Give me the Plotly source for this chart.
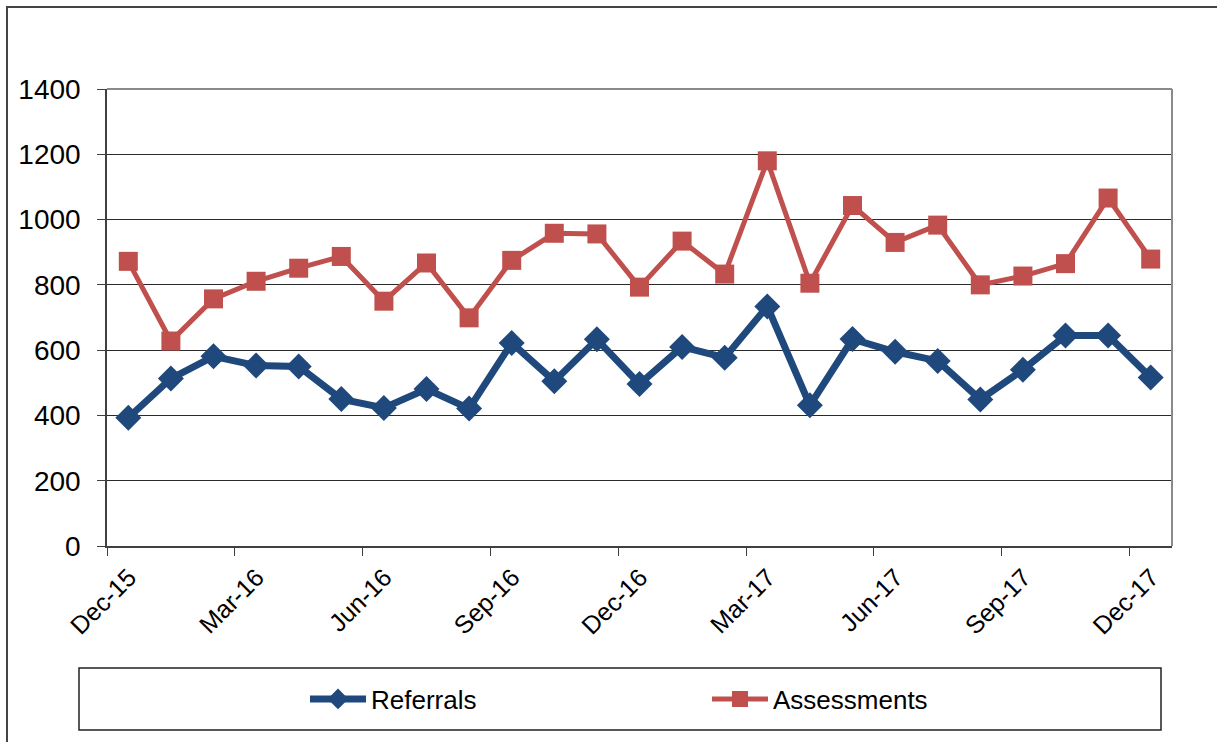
import plotly.graph_objects as go

months = ["Dec-15", "Jan-16", "Feb-16", "Mar-16", "Apr-16", "May-16", "Jun-16", "Jul-16",
          "Aug-16", "Sep-16", "Oct-16", "Nov-16", "Dec-16", "Jan-17", "Feb-17", "Mar-17",
          "Apr-17", "May-17", "Jun-17", "Jul-17", "Aug-17", "Sep-17", "Oct-17", "Nov-17", "Dec-17"]
referrals = [393, 513, 581, 553, 550, 450, 423, 481, 421, 622, 505, 633, 496, 610, 577, 734,
             431, 634, 595, 567, 449, 540, 645, 645, 516]
assessments = [872, 628, 757, 811, 851, 887, 750, 867, 699, 875, 958, 956, 793, 934, 833, 1180,
               805, 1043, 930, 983, 800, 827, 865, 1066, 879]
tick_labels = ["Dec-15", "Mar-16", "Jun-16", "Sep-16", "Dec-16", "Mar-17", "Jun-17", "Sep-17", "Dec-17"]

# numeric month axis: each month occupies one unit, point at its middle
xpos = [i + 0.5 for i in range(len(months))]
tickpos = [months.index(t) for t in tick_labels]

FONT = "Arial, Liberation Sans, sans-serif"
BLUE = "#1F497D"
RED = "#C0504D"

W, H = 1217, 742
L, R, T, B = 107, 45, 89, 196
PW, PH = W - L - R, H - T - B


def px(x):
    return (x - L) / PW


def py(y):
    return (H - B - y) / PH


fig = go.Figure()
fig.add_trace(go.Scatter(
    x=xpos, y=referrals, name="Referrals", mode="lines+markers",
    line=dict(color=BLUE, width=7), marker=dict(symbol="diamond", size=20, color=BLUE),
    legend="legend", customdata=months, hovertemplate="%{customdata}: %{y}<extra>Referrals</extra>"))
fig.add_trace(go.Scatter(
    x=xpos, y=assessments, name="Assessments", mode="lines+markers",
    line=dict(color=RED, width=5), marker=dict(symbol="square", size=19, color=RED),
    legend="legend2", customdata=months, hovertemplate="%{customdata}: %{y}<extra>Assessments</extra>"))

fig.update_layout(
    width=W, height=H,
    margin=dict(l=L, r=R, t=T, b=B, pad=0),
    paper_bgcolor="white", plot_bgcolor="white",
    font=dict(family=FONT, size=26, color="black"),
    showlegend=True,
    legend=dict(orientation="h", x=px(305), xanchor="left", y=py(699), yanchor="middle",
                bgcolor="rgba(0,0,0,0)", borderwidth=0, font=dict(size=26), itemwidth=56),
    legend2=dict(orientation="h", x=px(707), xanchor="left", y=py(699), yanchor="middle",
                 bgcolor="rgba(0,0,0,0)", borderwidth=0, font=dict(size=26), itemwidth=56),
    xaxis=dict(range=[0, len(months)], tickmode="array", tickvals=tickpos, ticktext=tick_labels,
               tickangle=-45, ticks="outside", ticklen=8, tickcolor="#404040", tickwidth=1,
               showgrid=False, zeroline=False, showline=True, linecolor="#404040", linewidth=1.5,
               tickfont=dict(size=25, family=FONT), ticklabelshift=22, ticklabelstandoff=-3),
    yaxis=dict(range=[0, 1400], dtick=200, ticks="outside", ticklen=8, tickcolor="#404040",
               showgrid=True, gridcolor="#2a2a2a", gridwidth=1, zeroline=False,
               showline=True, linecolor="#404040", linewidth=1.5,
               tickfont=dict(size=28, family=FONT), ticklabelstandoff=11),
    shapes=[
        # outer chart frame
        dict(type="rect", xref="paper", yref="paper", x0=px(7), x1=px(1225), y0=py(750), y1=py(7),
             line=dict(color="#444444", width=2), layer="above"),
        # plot area top/right border
        dict(type="line", xref="paper", yref="paper", x0=0, x1=1, y0=1, y1=1,
             line=dict(color="#8a8a8a", width=2), layer="above"),
        dict(type="line", xref="paper", yref="paper", x0=1, x1=1, y0=0, y1=1,
             line=dict(color="#8a8a8a", width=2), layer="above"),
        # legend box
        dict(type="rect", xref="paper", yref="paper", x0=px(79), x1=px(1161), y0=py(730), y1=py(668),
             line=dict(color="#222222", width=1.5), layer="above"),
    ],
)

fig.write_html("out.html")
